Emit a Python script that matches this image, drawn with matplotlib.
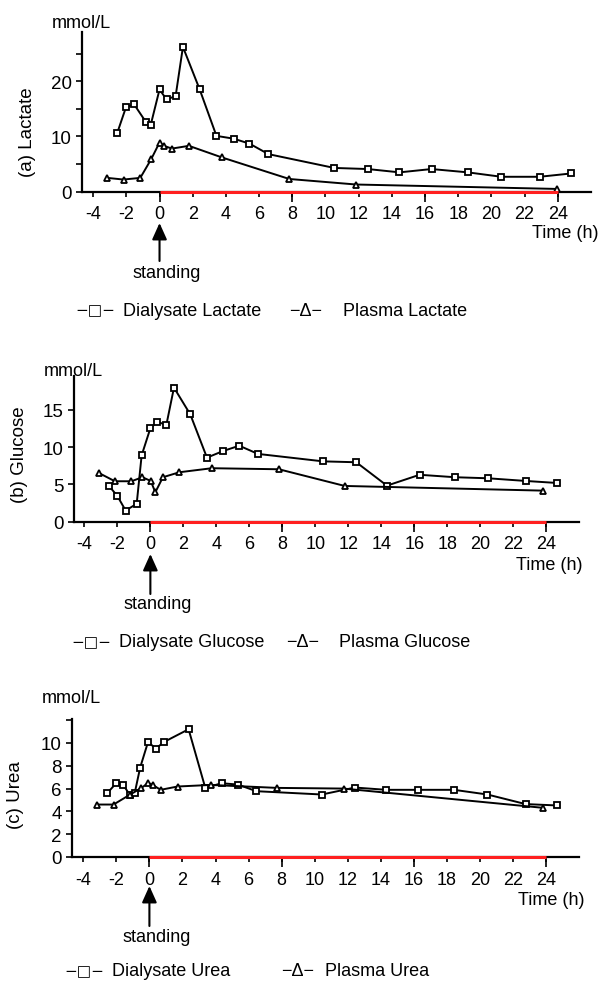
import matplotlib
matplotlib.use('Agg')
import matplotlib.pyplot as plt

plt.rcParams['font.family'] = ['Liberation Sans', 'DejaVu Sans']

# Lactate (mmol/L)
lac_dial_t = [-2.54, -2.02, -1.53, -0.84, -0.53, 0.0, 0.42, 0.97, 1.41, 2.42, 3.43,
              4.46, 5.42, 6.56, 10.53, 12.55, 14.46, 16.39, 18.58, 20.6, 22.9, 24.8]
lac_dial = [10.7, 15.3, 15.8, 12.7, 12.1, 18.5, 16.7, 17.3, 26.2, 18.5, 10.1,
            9.6, 8.7, 6.8, 4.3, 4.1, 3.5, 4.1, 3.5, 2.7, 2.7, 3.3]
lac_plas_t = [-3.15, -2.17, -1.16, -0.5, 0.0, 0.27, 0.74, 1.77, 3.76, 7.82, 11.85, 23.96]
lac_plas = [2.5, 2.2, 2.5, 5.9, 8.9, 8.3, 7.8, 8.3, 6.2, 2.3, 1.3, 0.5]

# Glucose (mmol/L)
glu_dial_t = [-2.51, -2.0, -1.5, -0.83, -0.53, 0.0, 0.42, 0.97, 1.43, 2.42, 3.43,
              4.42, 5.39, 6.52, 10.47, 12.48, 14.34, 16.32, 18.46, 20.46, 22.76, 24.64]
glu_dial = [4.8, 3.45, 1.5, 2.4, 8.9, 12.55, 13.4, 13.0, 18.0, 14.4, 8.6,
            9.5, 10.2, 9.1, 8.1, 7.98, 4.84, 6.3, 5.97, 5.83, 5.47, 5.2]
glu_plas_t = [-3.13, -2.15, -1.15, -0.48, 0.02, 0.3, 0.76, 1.76, 3.73, 7.79, 11.78, 23.82]
glu_plas = [6.55, 5.43, 5.43, 5.97, 5.47, 3.95, 5.97, 6.64, 7.18, 7.04, 4.8, 4.17]

# Urea (mmol/L)
urea_dial_t = [-2.55, -2.01, -1.57, -1.19, -0.89, -0.56, -0.08, 0.38, 0.9, 2.37, 3.38,
               4.37, 5.35, 6.47, 10.43, 12.43, 14.32, 16.27, 18.42, 20.44, 22.75, 24.64]
urea_dial = [5.6, 6.47, 6.3, 5.45, 5.6, 7.84, 10.1, 9.5, 10.1, 11.2, 6.06,
             6.47, 6.35, 5.77, 5.48, 6.09, 5.89, 5.89, 5.89, 5.48, 4.64, 4.52]
urea_plas_t = [-3.17, -2.17, -1.16, -0.48, -0.06, 0.22, 0.68, 1.7, 3.71, 7.71, 11.75, 23.82]
urea_plas = [4.6, 4.6, 5.48, 6.06, 6.5, 6.3, 5.89, 6.18, 6.32, 6.06, 6.0, 4.31]

xticks = list(range(-4, 25, 2))
long_ticks = [0, 8, 16, 24]

W, H = 600, 987
fig = plt.figure(figsize=(W / 100, H / 100), dpi=100)
FS = 13

# panel layout in pixels (from top-left): left, right, y of zero, y of top
panels = [
    dict(px=(81.7, 591, 192.7, 33), ylim=(0, 28.9), yt=[0, 10, 20], ymin=[5, 15, 25],
         x0=-4.69, ylab='(a) Lactate', ylab_xy=(28, 132), unit_y=24,
         time_xy=(598, 233), arrow=(224, 262), stand_y=274, leg_y=311,
         leg=('Dialysate Lactate', 'Plasma Lactate'), leg_x=(123, 289, 343),
         d=(lac_dial_t, lac_dial, lac_plas_t, lac_plas)),
    dict(px=(73.5, 579.3, 522.7, 376.7), ylim=(0, 19.6), yt=[0, 5, 10, 15], ymin=[],
         x0=-4.66, ylab='(b) Glucose', ylab_xy=(20, 455), unit_y=372,
         time_xy=(583, 565), arrow=(555, 595), stand_y=605, leg_y=643,
         leg=('Dialysate Glucose', 'Plasma Glucose'), leg_x=(119, 286, 339),
         d=(glu_dial_t, glu_dial, glu_plas_t, glu_plas)),
    dict(px=(71.7, 579.3, 858, 720), ylim=(0, 12.1), yt=[0, 2, 4, 6, 8, 10], ymin=[12],
         x0=-4.7, ylab='(c) Urea', ylab_xy=(16, 795), unit_y=699,
         time_xy=(585, 901), arrow=(887, 927), stand_y=938, leg_y=972,
         leg=('Dialysate Urea', 'Plasma Urea'), leg_x=(112, 281, 325),
         d=(urea_dial_t, urea_dial, urea_plas_t, urea_plas)),
]

for p in panels:
    l, r, y0, yt = p['px']
    ax = fig.add_axes([l / W, 1 - y0 / H, (r - l) / W, (y0 - yt) / H])
    ax.set_xlim(p['x0'], 26)
    ax.set_ylim(*p['ylim'])
    for s in ['top', 'right']:
        ax.spines[s].set_visible(False)
    for s in ['left', 'bottom']:
        ax.spines[s].set_linewidth(1.6)

    ax.set_xticks(xticks)
    ax.set_xticklabels([str(t) for t in xticks], fontsize=FS)
    ax.set_xticks(long_ticks, minor=True)
    ax.xaxis.remove_overlapping_locs = False
    ax.tick_params(axis='x', which='major', direction='out', length=3.8, width=1.2, pad=6)
    ax.tick_params(axis='x', which='minor', direction='out', length=7.5, width=1.2)

    ax.set_yticks(p['yt'])
    ax.set_yticklabels([str(t) for t in p['yt']], fontsize=FS + 0.5)
    ax.set_yticks(p['ymin'], minor=True)
    ax.tick_params(axis='y', which='both', direction='out', length=4, width=1.2, pad=3)

    # red bar along the time axis from standing to 24 h
    ax.plot([0, 24], [0, 0], color='#ff2020', lw=2.2, clip_on=False, zorder=5,
            solid_capstyle='butt')

    dt, dv, pt, pv = p['d']
    ax.plot(dt, dv, color='black', lw=1.4, marker='s', ms=4.6, mfc='white',
            mec='black', mew=1.3, clip_on=False, zorder=4)
    ax.plot(pt, pv, color='black', lw=1.4, marker='^', ms=4.3, mfc='white',
            mec='black', mew=1.3, clip_on=False, zorder=4)

    # unit label
    fig.text(l / W, 1 - p['unit_y'] / H, 'mmol/L', ha='center', va='center', fontsize=FS)
    # y label
    fig.text(p['ylab_xy'][0] / W, 1 - p['ylab_xy'][1] / H, p['ylab'], rotation=90,
             ha='center', va='center', fontsize=FS + 0.5)
    # time label
    fig.text(p['time_xy'][0] / W, 1 - p['time_xy'][1] / H, 'Time (h)',
             ha='right', va='center', fontsize=FS)

    # standing arrow at t = 0
    a_top, a_bot = p['arrow']
    ax.annotate('', xy=(0, H - a_top), xycoords=('data', 'figure pixels'),
                xytext=(0, H - a_bot), textcoords=('data', 'figure pixels'),
                arrowprops=dict(arrowstyle='-|>,head_width=0.45,head_length=1.0',
                                color='black', lw=1.5, shrinkA=0, shrinkB=0))
    ax.annotate('standing', xy=(0.45, H - p['stand_y']),
                xycoords=('data', 'figure pixels'),
                ha='center', va='center', fontsize=FS)

    # legend row
    x2, x3, x4 = p['leg_x']
    ly = 1 - p['leg_y'] / H
    fig.text((x2 - 8) / W, ly, '−□−', ha='right', va='center', fontsize=11,
             family=['DejaVu Sans'])
    fig.text(x2 / W, ly, p['leg'][0], ha='left', va='center', fontsize=FS)
    fig.text(x3 / W, ly, '−Δ−', ha='left', va='center', fontsize=FS)
    fig.text(x4 / W, ly, p['leg'][1], ha='left', va='center', fontsize=FS)

fig.savefig('out.png', dpi=100)
